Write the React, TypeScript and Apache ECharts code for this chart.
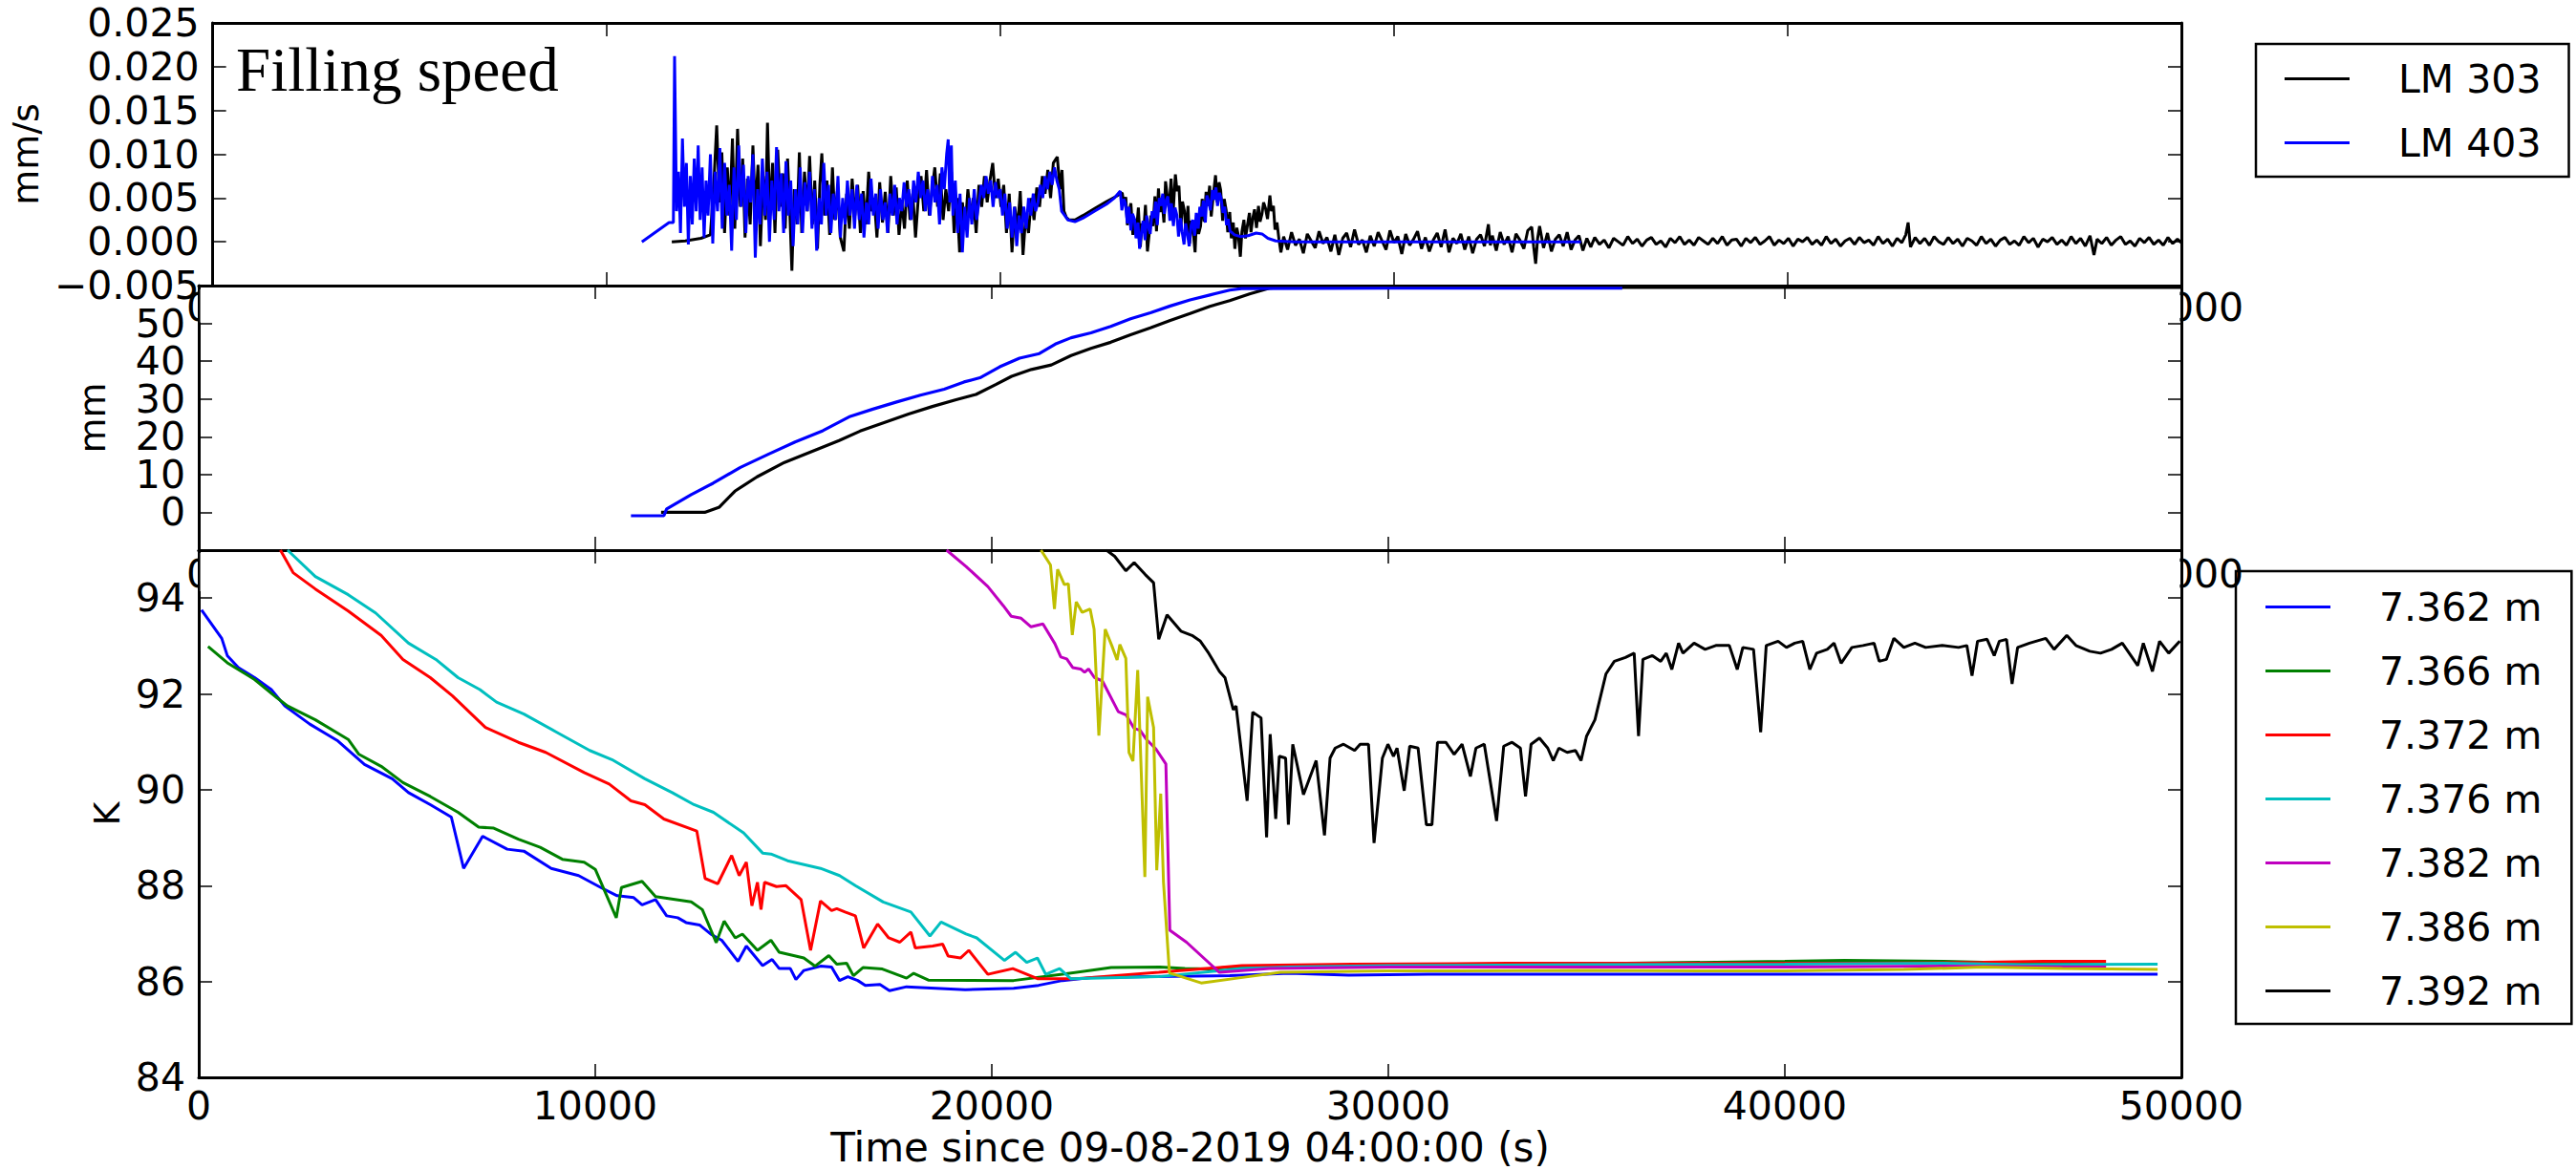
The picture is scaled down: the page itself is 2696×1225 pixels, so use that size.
import React, { useEffect, useRef } from "react";
import * as echarts from "echarts";

type Pt = [number, number];

// ---------------- DATA ----------------
const probeNames = ["LM 303", "LM 403"];
const sensorNames = ["7.362 m", "7.366 m", "7.372 m", "7.376 m", "7.382 m", "7.386 m", "7.392 m"];

// Filling speed (mm/s)
const speedLM303: Pt[] = [
  [11660, 0.0], [12000, 0.0001], [12400, 0.0004], [12640, 0.0008], [12720, 0.006], [12800, 0.0133], [12870, 0.0045], [12930, 0.0102],
  [13000, 0.001], [13070, 0.0085], [13130, 0.003], [13200, 0.0118], [13260, 0.0015], [13330, 0.0129], [13400, 0.004], [13460, 0.0095],
  [13520, 0.0005], [13580, 0.0072], [13650, 0.002], [13720, 0.011], [13780, 0.0035], [13850, 0.0088], [13910, -0.0005], [13980, 0.0075],
  [14040, 0.0025], [14090, 0.0136], [14150, 0.003], [14220, 0.009], [14280, 0.001], [14350, 0.0105], [14420, 0.004], [14480, 0.0078],
  [14540, 0.0015], [14600, 0.0095], [14660, 0.003], [14710, -0.0033], [14770, 0.006], [14840, 0.002], [14900, 0.0102], [14960, 0.001],
  [15030, 0.008], [15100, 0.0035], [15160, 0.0098], [15230, 0.002], [15290, 0.007], [15360, -0.0008], [15420, 0.0065], [15470, 0.0101],
  [15540, 0.003], [15600, 0.007], [15670, 0.0008], [15740, 0.0085], [15800, 0.0025], [15870, 0.006], [15940, 0.0005], [16030, -0.0011],
  [16100, 0.0055], [16170, 0.0015], [16240, 0.0072], [16310, 0.003], [16380, 0.0065], [16450, 0.001], [16520, 0.0058], [16590, 0.002],
  [16660, 0.008], [16730, 0.0035], [16800, 0.005], [16870, 0.0005], [16940, 0.0068], [17010, 0.0022], [17080, 0.0057], [17150, 0.001],
  [17220, 0.0075], [17290, 0.003], [17360, 0.0062], [17430, 0.0008], [17500, 0.0045], [17570, 0.0015], [17640, 0.007], [17710, 0.0025],
  [17780, 0.0055], [17850, 0.0005], [17920, 0.005], [17990, 0.0075], [18060, 0.0035], [18130, 0.0082], [18200, 0.003], [18270, 0.006],
  [18340, 0.0085], [18410, 0.004], [18480, 0.0078], [18550, 0.0025], [18620, 0.006], [18690, 0.0035], [18760, 0.008], [18830, 0.001],
  [18900, 0.005], [18970, -0.0012], [19040, 0.0045], [19110, 0.0015], [19180, 0.006], [19250, 0.003], [19320, 0.005], [19390, 0.001],
  [19460, 0.0065], [19530, 0.004], [19600, 0.0075], [19670, 0.0045], [19740, 0.007], [19810, 0.009], [19880, 0.005], [19950, 0.0072],
  [20020, 0.004], [20090, 0.0065], [20160, 0.001], [20230, 0.0055], [20300, -0.0012], [20370, 0.004], [20440, 0.0015], [20510, 0.0058],
  [20580, -0.0015], [20650, 0.003], [20720, 0.001], [20790, 0.005], [20860, 0.0025], [20930, 0.0062], [21000, 0.004], [21070, 0.0075],
  [21140, 0.0055], [21210, 0.0082], [21280, 0.005], [21350, 0.009], [21450, 0.0097], [21520, 0.006], [21570, 0.0082], [21620, 0.0035],
  [21680, 0.0028], [21750, 0.0025], [21900, 0.0025], [22100, 0.003], [22400, 0.0038], [22700, 0.0046], [22950, 0.0052], [23100, 0.0056],
  [23140, 0.0043], [23190, 0.0051], [23230, 0.0019], [23280, 0.0035], [23320, 0.0044], [23370, 0.0008], [23420, 0.0026], [23460, 0.0012],
  [23510, 0.0039], [23560, -0.0006], [23600, 0.0021], [23650, 0.0015], [23690, 0.0042], [23740, -0.0011], [23780, 0.0007], [23830, 0.003],
  [23880, 0.0018], [23930, 0.0052], [23970, 0.0012], [24020, 0.0061], [24060, 0.0034], [24110, 0.0047], [24160, 0.0022], [24200, 0.0069],
  [24250, 0.005], [24290, 0.0038], [24340, 0.0072], [24390, 0.0031], [24450, 0.0077], [24490, 0.0058], [24540, 0.0064], [24590, 0.0017],
  [24630, 0.0046], [24680, 0.0035], [24720, 0.0009], [24770, 0.0041], [24810, -0.0002], [24860, 0.0024], [24900, 0.0013], [24950, -0.0012],
  [24990, 0.0031], [25040, 0.0009], [25090, 0.0018], [25130, 0.0049], [25180, 0.0023], [25230, 0.0057], [25270, 0.0041], [25320, 0.0064],
  [25360, 0.0029], [25410, 0.0052], [25470, 0.0076], [25510, 0.0045], [25560, 0.0068], [25600, 0.0059], [25650, 0.0024], [25690, 0.0049],
  [25740, 0.0036], [25780, 0.0011], [25830, 0.0034], [25870, 0.0004], [25920, 0.0022], [25960, -0.0008], [26010, 0.0016], [26050, 0.0007],
  [26100, -0.0017], [26140, 0.0012], [26190, 0.0025], [26230, 0.0004], [26280, 0.0019], [26330, 0.0033], [26370, 0.0011], [26420, 0.0028],
  [26460, 0.0037], [26510, 0.0016], [26560, 0.0041], [26600, 0.0023], [26650, 0.0032], [26690, 0.0045], [26740, 0.0038], [26790, 0.0026],
  [26850, 0.0053], [26890, 0.0035], [26940, 0.0041], [26980, 0.0014], [27030, 0.0022], [27080, 0.0003], [27130, -0.0012],
  [27200, 0.0006], [27300, -0.0009], [27400, 0.0011], [27500, -0.0004], [27600, 0.0003], [27700, -0.0013], [27800, 0.0009],
  [27900, 0.0001], [28000, -0.0007], [28100, 0.0012], [28200, -0.0002], [28300, 0.0005], [28400, -0.0011], [28500, 0.0008], [28600, -0.0015],
  [28700, 0.0004], [28800, 0.001], [28900, -0.0006], [29000, 0.0014], [29100, -0.0003], [29200, 0.0002], [29300, -0.0012], [29400, 0.0007],
  [29500, -0.0005], [29600, 0.0011], [29700, 0.0001], [29800, -0.0009], [29900, 0.0013], [30000, -0.0001], [30100, 0.0006], [30200, -0.0014],
  [30300, 0.0009], [30400, -0.0004], [30500, 0.0003], [30600, 0.0012], [30700, -0.0008], [30800, 0.0005], [30900, -0.0011], [31000, 0.0002],
  [31100, 0.001], [31200, -0.0006], [31300, 0.0014], [31400, -0.0012], [31500, 0.0004], [31600, -0.0002], [31700, 0.0009], [31800, -0.0009],
  [31900, 0.0006], [32000, -0.0013], [32100, 0.0003], [32200, 0.0008], [32300, -0.0005], [32400, 0.002], [32450, -0.0004], [32500, 0.0007],
  [32600, -0.001], [32700, 0.0011], [32800, -0.0003], [32900, 0.0006], [33000, -0.0012], [33100, 0.0009], [33200, 0.0002], [33300, -0.0008],
  [33400, 0.0013], [33500, 0.0017], [33550, -0.0006], [33600, -0.0025], [33650, 0.0004], [33700, 0.0018], [33800, -0.0007], [33900, 0.001],
  [34000, -0.0011], [34100, 0.0003], [34200, 0.0008], [34300, -0.0005], [34400, 0.0011], [34500, -0.0009], [34600, 0.0002], [34700, 0.0007],
  [34800, -0.001], [34900, 0.0004], [35000, -0.0006], [35100, 0.0005], [35220, -0.0003], [35340, 0.0002], [35460, -0.0007], [35580, 0.0004],
  [35700, 0.0], [35820, -0.0004], [35940, 0.0006], [36060, -0.0002], [36180, 0.0003], [36300, -0.0005], [36420, 0.0002], [36540, 0.0005],
  [36660, -0.0003], [36780, 0.0001], [36900, -0.0006], [37020, 0.0004], [37140, -0.0001], [37260, 0.0006], [37380, -0.0003], [37500, 0.0002],
  [37620, -0.0004], [37740, 0.0005], [37860, 0.0001], [37980, -0.0003], [38100, 0.0004], [38220, -0.0002], [38340, 0.0006], [38460, -0.0004],
  [38580, 0.0002], [38700, 0.0003], [38820, -0.0005], [38940, 0.0004], [39060, -0.0001], [39180, 0.0005], [39300, -0.0003], [39420, 0.0001],
  [39540, 0.0006], [39660, -0.0004], [39780, 0.0002], [39900, -0.0002], [40020, 0.0004], [40140, -0.0005], [40260, 0.0003], [40380, 0.0],
  [40500, 0.0005], [40620, -0.0003], [40740, 0.0002], [40860, -0.0004], [40980, 0.0006], [41100, -0.0002], [41220, 0.0003], [41340, -0.0005],
  [41460, 0.0001], [41580, 0.0004], [41700, -0.0003], [41820, 0.0005], [41940, -0.0001], [42060, 0.0002], [42180, -0.0004], [42300, 0.0006],
  [42420, -0.0002], [42540, 0.0003], [42660, -0.0005], [42780, 0.0004], [42900, -0.0001], [43000, 0.0008], [43060, 0.0022], [43120, -0.0006],
  [43240, 0.0005], [43360, -0.0002], [43480, 0.0004], [43600, -0.0004], [43720, 0.0006], [43840, 0.0], [43960, -0.0003], [44080, 0.0005],
  [44200, -0.0002], [44320, 0.0003], [44440, -0.0005], [44560, 0.0004], [44680, 0.0001], [44800, -0.0004], [44920, 0.0006], [45040, -0.0002],
  [45160, 0.0003], [45280, -0.0005], [45400, 0.0002], [45520, 0.0005], [45640, -0.0003], [45760, 0.0001], [45880, -0.0004], [46000, 0.0006],
  [46120, -0.0001], [46240, 0.0004], [46360, -0.0006], [46480, 0.0003], [46600, 0.0], [46720, 0.0005], [46840, -0.0003], [46960, 0.0002],
  [47080, -0.0004], [47200, 0.0006], [47320, -0.0002], [47440, 0.0004], [47560, -0.0005], [47680, 0.0007], [47780, -0.0015], [47860, 0.0003],
  [47980, -0.0002], [48100, 0.0005], [48220, -0.0004], [48340, 0.0002], [48460, 0.0006], [48580, -0.0003], [48700, 0.0001], [48820, -0.0005],
  [48940, 0.0004], [49060, -0.0001], [49180, 0.0005], [49300, -0.0003], [49420, 0.0002], [49540, -0.0004], [49660, 0.0005], [49780, -0.0002],
  [49900, 0.0003], [50000, -0.0001]
];

const speedLM403: Pt[] = [
  [10900, 0.0], [11590, 0.0022], [11700, 0.0022], [11730, 0.0212], [11780, 0.0035], [11830, 0.008], [11880, 0.001], [11930, 0.0118],
  [11980, 0.004], [12030, 0.009], [12080, -0.0003], [12130, 0.0075], [12180, 0.002], [12230, 0.0095], [12280, 0.0035], [12330, 0.011],
  [12380, 0.0025], [12430, 0.0085], [12480, 0.0005], [12530, 0.007], [12580, 0.003], [12640, 0.01], [12700, -0.0002], [12760, 0.008],
  [12820, 0.0035], [12880, 0.0107], [12940, 0.0015], [13000, 0.009], [13060, 0.003], [13120, 0.0065], [13180, -0.001], [13240, 0.0085],
  [13300, 0.0025], [13360, 0.011], [13420, 0.004], [13480, 0.0088], [13540, 0.001], [13600, 0.0075], [13660, 0.0045], [13720, 0.01],
  [13780, -0.0018], [13840, 0.006], [13900, 0.002], [13960, 0.0095], [14020, 0.003], [14080, 0.008], [14140, 0.0], [14200, 0.007],
  [14260, 0.0025], [14320, 0.0108], [14380, 0.0035], [14440, 0.0078], [14500, 0.001], [14560, 0.0092], [14620, 0.003], [14680, 0.007],
  [14740, -0.0005], [14800, 0.006], [14860, 0.002], [14920, 0.0085], [14980, 0.001], [15040, 0.0068], [15100, 0.0035], [15160, 0.008],
  [15220, 0.0015], [15280, 0.006], [15340, -0.001], [15400, 0.005], [15460, 0.002], [15520, 0.009], [15580, 0.003], [15640, 0.0065],
  [15700, 0.001], [15760, 0.0055], [15820, 0.0025], [15880, 0.0075], [15940, 0.0005], [16000, 0.005], [16060, 0.002], [16120, 0.007],
  [16180, 0.003], [16240, 0.006], [16300, 0.0015], [16360, 0.0065], [16420, 0.0025], [16480, 0.0055], [16540, 0.0005], [16600, 0.0045],
  [16660, 0.002], [16720, 0.0072], [16780, 0.003], [16840, 0.0055], [16900, 0.0015], [16960, 0.006], [17020, 0.0025], [17080, 0.0045],
  [17140, 0.001], [17200, 0.0055], [17260, 0.003], [17320, 0.0065], [17380, 0.002], [17440, 0.005], [17500, 0.0035], [17560, 0.0068],
  [17620, 0.004], [17680, 0.006], [17740, 0.0025], [17800, 0.007], [17860, 0.0045], [17920, 0.008], [17980, 0.005], [18040, 0.007],
  [18100, 0.0035], [18160, 0.006], [18220, 0.003], [18280, 0.0075], [18340, 0.0045], [18400, 0.0065], [18460, 0.002], [18520, 0.0085],
  [18580, 0.006], [18640, 0.01], [18680, 0.0117], [18720, 0.0045], [18760, 0.011], [18800, 0.003], [18860, 0.007], [18920, 0.001],
  [18980, 0.0055], [19040, -0.0012], [19100, 0.004], [19160, 0.0005], [19220, 0.005], [19280, 0.002], [19340, 0.006], [19400, 0.0025],
  [19460, 0.0045], [19520, 0.0065], [19580, 0.005], [19640, 0.0075], [19700, 0.0055], [19760, 0.007], [19820, 0.004], [19880, 0.0068],
  [19940, 0.005], [20000, 0.006], [20060, 0.003], [20120, 0.0055], [20180, 0.0015], [20240, 0.0045], [20300, 0.0005], [20360, 0.004],
  [20420, -0.0005], [20480, 0.003], [20540, 0.001], [20600, 0.004], [20660, 0.0015], [20720, 0.005], [20780, 0.003], [20840, 0.0055],
  [20900, 0.0035], [20960, 0.0045], [21020, 0.0065], [21080, 0.005], [21140, 0.0075], [21200, 0.006], [21260, 0.008], [21320, 0.0065],
  [21380, 0.0085], [21440, 0.007], [21500, 0.006], [21560, 0.0035], [21640, 0.003], [21720, 0.0025], [21900, 0.0023], [22100, 0.0027],
  [22400, 0.0035], [22700, 0.0043], [22900, 0.005], [23050, 0.0058], [23090, 0.0036], [23140, 0.0049], [23180, 0.0044], [23230, 0.0021],
  [23270, 0.004], [23320, 0.0013], [23360, 0.0032], [23410, 0.0026], [23450, 0.0004], [23500, 0.0022], [23540, -0.0008], [23590, 0.0011],
  [23630, 0.0024], [23680, 0.0002], [23720, 0.003], [23770, 0.0016], [23810, 0.0009], [23860, 0.0035], [23900, 0.0027], [23950, 0.0046],
  [23990, 0.0019], [24040, 0.005], [24080, 0.0041], [24130, 0.0055], [24170, 0.0032], [24220, 0.0048], [24260, 0.0052], [24310, 0.0024],
  [24350, 0.0044], [24400, 0.0018], [24440, 0.0039], [24490, 0.003], [24530, 0.0006], [24580, 0.0027], [24620, 0.0012], [24670, -0.0003],
  [24710, 0.0021], [24760, 0.0008], [24800, -0.0005], [24850, 0.0019], [24890, 0.0025], [24940, 0.0007], [24980, 0.0033], [25030, 0.0015],
  [25070, 0.004], [25120, 0.0029], [25160, 0.0047], [25210, 0.0022], [25250, 0.0053], [25300, 0.0045], [25340, 0.0036], [25390, 0.0059],
  [25430, 0.0048], [25480, 0.0062], [25520, 0.0041], [25570, 0.0056], [25610, 0.005], [25660, 0.0033], [25700, 0.004], [25750, 0.0019],
  [25790, 0.0026], [25840, 0.0012], [25900, 0.001], [25950, 0.0008], [26100, 0.0006], [26300, 0.0007], [26500, 0.001], [26650, 0.0009],
  [26800, 0.0004], [27000, 0.0001], [27500, 0.0], [28500, 0.0], [30000, 0.0], [32000, 0.0], [34750, 0.0]
];

// Level (mm)
const levelLM303: Pt[] = [
  [11660, 0], [12760, 0], [13130, 1.4], [13520, 5.6], [14080, 9.4], [14770, 13.2], [15460, 16.1], [16150, 19.0], [16680, 21.5],
  [17300, 23.8], [17900, 26.0], [18500, 28.0], [19100, 29.8], [19600, 31.2], [20100, 33.8], [20500, 36.0], [21000, 37.8], [21500, 39.0],
  [22000, 41.5], [22500, 43.4], [23000, 45.0], [23500, 47.0], [24000, 48.8], [24500, 50.8], [25000, 52.6], [25500, 54.5], [26000, 56.0],
  [26500, 57.8], [27000, 59.3], [27300, 59.5], [50000, 59.5]
];
const levelLM403: Pt[] = [
  [10900, -0.9], [11730, -0.9], [11800, 0.9], [12420, 4.7], [12970, 7.7], [13660, 11.9], [14350, 15.3], [15040, 18.6], [15740, 21.6],
  [16430, 25.4], [17000, 27.3], [17600, 29.2], [18200, 31.0], [18800, 32.6], [19300, 34.5], [19700, 35.6], [20200, 38.5], [20700, 40.8],
  [21200, 42.0], [21600, 44.5], [22000, 46.2], [22500, 47.5], [23000, 49.2], [23500, 51.2], [24000, 52.8], [24500, 54.6], [25000, 56.2],
  [25500, 57.5], [26000, 58.8], [26300, 59.2], [30000, 59.3], [35900, 59.3]
];

// Temperatures (K)
const temp7362: Pt[] = [
  [70, 93.75], [580, 93.16], [720, 92.8], [1000, 92.55], [1410, 92.34], [1830, 92.09], [2170, 91.75], [2800, 91.37], [3490, 91.03],
  [4180, 90.53], [4880, 90.23], [5290, 89.94], [5840, 89.69], [6370, 89.43], [6680, 88.36], [7160, 89.03], [7780, 88.76], [8200, 88.72],
  [8890, 88.36], [9580, 88.21], [10140, 87.96], [10550, 87.79], [10970, 87.75], [11180, 87.6], [11520, 87.71], [11800, 87.37],
  [12080, 87.33], [12290, 87.23], [12630, 87.18], [12910, 86.99], [13190, 86.86], [13600, 86.42], [13810, 86.74], [14220, 86.33],
  [14460, 86.46], [14640, 86.27], [14920, 86.27], [15060, 86.04], [15260, 86.23], [15680, 86.32], [15960, 86.3], [16160, 86.02],
  [16370, 86.1], [16620, 86.02], [16810, 85.92], [17180, 85.94], [17420, 85.81], [17850, 85.89], [19330, 85.83], [20550, 85.86],
  [21180, 85.92], [21780, 86.02], [22500, 86.08], [24000, 86.1], [26000, 86.12], [27500, 86.17], [29000, 86.13], [31000, 86.15],
  [35000, 86.15], [40000, 86.15], [45000, 86.15], [49400, 86.15]
];
const temp7366: Pt[] = [
  [235, 92.99], [720, 92.65], [1410, 92.3], [1970, 91.92], [2240, 91.75], [2940, 91.46], [3770, 91.05], [4040, 90.74], [4600, 90.49],
  [5150, 90.15], [5840, 89.86], [6540, 89.53], [7060, 89.22], [7440, 89.2], [8060, 88.97], [8610, 88.8], [9170, 88.55], [9720, 88.49],
  [10000, 88.34], [10530, 87.33], [10660, 87.96], [11180, 88.09], [11520, 87.77], [12010, 87.71], [12420, 87.66], [12700, 87.5],
  [13050, 86.81], [13250, 87.26], [13530, 86.91], [13710, 86.99], [14090, 86.65], [14430, 86.86], [14640, 86.61], [15260, 86.49],
  [15540, 86.32], [15890, 86.54], [16090, 86.36], [16340, 86.38], [16510, 86.12], [16750, 86.29], [17240, 86.26], [17850, 86.07],
  [18030, 86.17], [18400, 86.03], [20550, 86.02], [21780, 86.15], [23010, 86.29], [24240, 86.3], [24870, 86.27], [25490, 86.26],
  [26000, 86.3], [28000, 86.32], [32000, 86.35], [36000, 86.38], [40000, 86.42], [41500, 86.44], [44000, 86.42], [46000, 86.38],
  [48100, 86.35]
];
const temp7372: Pt[] = [
  [2060, 95], [2380, 94.53], [2940, 94.19], [3770, 93.73], [4600, 93.22], [5150, 92.72], [5840, 92.34], [6400, 91.96], [7230, 91.3],
  [8060, 90.99], [8750, 90.78], [9720, 90.36], [10350, 90.12], [10900, 89.77], [11250, 89.69], [11730, 89.39], [12560, 89.14],
  [12770, 88.15], [13090, 88.04], [13440, 88.63], [13630, 88.21], [13810, 88.49], [13950, 87.58], [14090, 88.07], [14180, 87.5],
  [14270, 88.07], [14570, 87.98], [14810, 88.0], [15190, 87.71], [15430, 86.65], [15680, 87.68], [15960, 87.48], [16090, 87.52],
  [16300, 87.45], [16560, 87.37], [16770, 86.7], [17120, 87.2], [17400, 86.91], [17680, 86.82], [17960, 87.03], [18070, 86.7],
  [18510, 86.74], [18760, 86.78], [18900, 86.53], [19210, 86.49], [19420, 86.65], [19900, 86.15], [20530, 86.27], [21150, 86.06],
  [22130, 86.06], [24210, 86.19], [26300, 86.33], [29080, 86.36], [33000, 86.38], [38000, 86.38], [42000, 86.38], [45000, 86.4],
  [46500, 86.42], [48100, 86.42]
];
const temp7376: Pt[] = [
  [2240, 95], [2940, 94.45], [3770, 94.07], [4460, 93.69], [5290, 93.06], [5980, 92.72], [6540, 92.34], [7090, 92.09], [7510, 91.83],
  [8200, 91.58], [9030, 91.2], [9860, 90.82], [10420, 90.63], [11250, 90.23], [11940, 89.94], [12490, 89.69], [12980, 89.53],
  [13740, 89.1], [14220, 88.68], [14430, 88.66], [14850, 88.52], [15680, 88.36], [16160, 88.21], [16560, 88.0], [17260, 87.66],
  [17960, 87.45], [18440, 86.95], [18720, 87.24], [19350, 86.99], [19620, 86.91], [20320, 86.44], [20600, 86.61], [20880, 86.4],
  [21150, 86.49], [21360, 86.15], [21710, 86.27], [21990, 86.06], [24210, 86.1], [26300, 86.27], [27500, 86.3], [30000, 86.33],
  [35000, 86.35], [40000, 86.36], [44000, 86.38], [46000, 86.35], [49400, 86.36]
];
const temp7382: Pt[] = [
  [18860, 95], [19350, 94.66], [19900, 94.24], [20290, 93.84], [20490, 93.62], [20740, 93.58], [20990, 93.4], [21290, 93.46],
  [21590, 93.05], [21740, 92.77], [21890, 92.73], [22040, 92.55], [22240, 92.52], [22340, 92.45], [22440, 92.52], [22590, 92.34],
  [22790, 92.27], [23190, 91.63], [23390, 91.56], [23590, 91.28], [23740, 91.24], [23890, 91.06], [24140, 90.85], [24390, 90.54],
  [24490, 87.07], [24910, 86.82], [25740, 86.19], [27000, 86.27], [30000, 86.3], [35000, 86.3], [40000, 86.3], [44000, 86.32],
  [48100, 86.3]
];
const temp7386: Pt[] = [
  [21240, 95], [21480, 94.69], [21580, 93.77], [21660, 94.6], [21830, 94.28], [21930, 94.3], [22030, 93.23], [22130, 93.92],
  [22280, 93.7], [22480, 93.77], [22580, 93.35], [22700, 91.13], [22860, 93.35], [23030, 93.0], [23160, 92.71], [23230, 93.03],
  [23380, 92.74], [23460, 90.78], [23560, 90.6], [23680, 92.5], [23860, 88.18], [23930, 91.94], [24080, 91.3], [24160, 88.32],
  [24260, 89.92], [24330, 88.07], [24480, 86.18], [25280, 85.97], [26280, 86.08], [27280, 86.19], [30000, 86.22], [35000, 86.23],
  [40000, 86.22], [43000, 86.25], [45000, 86.3], [47000, 86.27], [49400, 86.25]
];
const temp7392: Pt[] = [
  [22890, 95], [23100, 94.87], [23380, 94.57], [23590, 94.74], [23870, 94.49], [24080, 94.32], [24210, 93.14], [24420, 93.65],
  [24770, 93.31], [25050, 93.22], [25260, 93.1], [25470, 92.85], [25740, 92.47], [25880, 92.34], [26090, 91.67], [26160, 91.75],
  [26440, 89.77], [26580, 91.62], [26790, 91.5], [26930, 89.01], [27020, 91.16], [27160, 89.39], [27250, 90.7], [27410, 90.66],
  [27480, 89.27], [27590, 90.95], [27860, 89.9], [28180, 90.61], [28390, 89.05], [28530, 90.66], [28660, 90.87], [28870, 90.95],
  [29150, 90.82], [29290, 90.95], [29500, 90.95], [29640, 88.89], [29850, 90.66], [29990, 90.95], [30130, 90.7], [30220, 90.87],
  [30400, 89.98], [30540, 90.91], [30750, 90.87], [30960, 89.27], [31100, 89.27], [31240, 90.99], [31450, 90.99], [31660, 90.74],
  [31860, 90.95], [32070, 90.28], [32210, 90.87], [32420, 90.95], [32730, 89.35], [32910, 90.91], [33120, 90.99], [33330, 90.87],
  [33460, 89.86], [33600, 90.95], [33810, 91.08], [34020, 90.87], [34160, 90.61], [34300, 90.87], [34510, 90.78], [34720, 90.82],
  [34860, 90.61], [35000, 91.12], [35210, 91.46], [35490, 92.42], [35700, 92.68], [35980, 92.76], [36200, 92.85], [36310, 91.12],
  [36420, 92.72], [36660, 92.8], [36870, 92.68], [37010, 92.85], [37150, 92.51], [37320, 93.06], [37430, 92.85], [37710, 93.06],
  [37990, 92.93], [38260, 93.01], [38600, 93.01], [38800, 92.51], [38940, 92.97], [39210, 92.93], [39390, 91.2], [39530, 93.01],
  [39830, 93.1], [40040, 92.97], [40250, 93.06], [40450, 93.1], [40630, 92.51], [40800, 92.85], [41070, 92.93], [41240, 93.06],
  [41420, 92.64], [41690, 92.97], [41970, 93.01], [42250, 93.06], [42380, 92.68], [42560, 92.72], [42750, 93.16], [43000, 92.97],
  [43280, 93.06], [43550, 92.97], [43970, 93.01], [44380, 92.97], [44590, 93.01], [44720, 92.38], [44860, 93.1], [45100, 93.14],
  [45280, 92.8], [45410, 93.1], [45590, 93.14], [45730, 92.21], [45870, 92.97], [46170, 93.06], [46580, 93.16], [46790, 92.93],
  [47110, 93.22], [47340, 93.01], [47690, 92.89], [47960, 92.85], [48240, 92.93], [48510, 93.06], [48900, 92.59], [49040, 93.06],
  [49270, 92.47], [49450, 93.1], [49680, 92.85], [49960, 93.1]
];
const sensorSeries: Pt[][] = [temp7362, temp7366, temp7372, temp7376, temp7382, temp7386, temp7392];

// ---------------- STYLE ----------------
const probeColors = ["#000000", "#0000ff"];
const sensorColors = ["#0000ff", "#008000", "#ff0000", "#00bfbf", "#bf00bf", "#bfbf00", "#000000"];
const FONT = '"DejaVu Sans", sans-serif';
const LABEL_SIZE = 41;

const axisLine = { show: true, onZero: false, lineStyle: { color: "#000", width: 3 } };
const axisTick = { show: true, inside: true, length: 14, lineStyle: { color: "#000", width: 1.5 } };
const labelStyle = { color: "#000", fontSize: LABEL_SIZE, fontFamily: FONT, lineHeight: 36 };

function xAxisPair(gridIndex: number, showLabels: boolean, extra: any = {}) {
  const base = {
    type: "value", gridIndex, min: 0, max: 50000, interval: 10000,
    axisLine, axisTick, splitLine: { show: false },
  };
  return [
    {
      ...base, position: "bottom",
      axisLabel: showLabels ? { ...labelStyle, margin: 12, formatter: (v: number) => String(v) } : { show: false },
      ...extra,
    },
    { ...base, position: "top", axisLabel: { show: false } },
  ];
}

function yAxisPair(gridIndex: number, min: number, max: number, interval: number, fmt: (v: number) => string, name: string, nameGap: number) {
  const base = {
    type: "value", gridIndex, min, max, interval,
    axisLine, axisTick, splitLine: { show: false },
  };
  return [
    {
      ...base, position: "left",
      axisLabel: { ...labelStyle, margin: 14, formatter: fmt },
      name, nameLocation: "middle", nameGap, nameRotate: 90,
      nameTextStyle: { color: "#000", fontSize: 38, fontFamily: FONT },
    },
    { ...base, position: "right", axisLabel: { show: false } },
  ];
}

const MINUS = "\u2212";

function buildOption() {
  const grids = [
    { left: 208, top: 24, width: 2075, height: 275 },
    { left: 208, top: 299, width: 2075, height: 277 },
    { left: 208, top: 576, width: 2075, height: 552 },
  ];
  const xAxis = [
    ...xAxisPair(0, false),
    ...xAxisPair(1, false),
    ...xAxisPair(2, true, {
      name: "Time since 09-08-2019 04:00:00 (s)", nameLocation: "middle", nameGap: 47,
      nameTextStyle: { color: "#000", fontSize: 42, fontFamily: FONT, lineHeight: 44 },
    }),
  ];
  const yAxis = [
    ...yAxisPair(0, -0.005, 0.025, 0.005, (v) => (v < -1e-9 ? MINUS : "") + Math.abs(v).toFixed(3), "mm/s", 154),
    ...yAxisPair(1, -10, 60, 10, (v) => (v < 0 ? MINUS : "") + Math.abs(Math.round(v)), "mm", 92),
    ...yAxisPair(2, 84, 95, 2, (v) => (v > 94.5 ? "" : String(Math.round(v))), "K", 67),
  ];

  const line = (name: string, data: Pt[], color: string, xi: number, yi: number, width: number) => ({
    type: "line", name, data, xAxisIndex: xi, yAxisIndex: yi,
    showSymbol: false, symbol: "none", color,
    lineStyle: { color, width }, itemStyle: { color },
    z: 3,
  });

  const series: any[] = [
    line(probeNames[0], speedLM303, probeColors[0], 0, 0, 3),
    line(probeNames[1], speedLM403, probeColors[1], 0, 0, 3),
    line(probeNames[0], levelLM303, probeColors[0], 2, 2, 3.2),
    line(probeNames[1], levelLM403, probeColors[1], 2, 2, 3.2),
    ...sensorSeries.map((d, i) => line(sensorNames[i], d, sensorColors[i], 4, 4, 3)),
  ];

  const legendBase = {
    orient: "vertical", icon: "rect", itemWidth: 68, itemHeight: 3, itemGap: 20,
    borderColor: "#000", borderWidth: 2.5, borderRadius: 0, backgroundColor: "#fff",
    selectedMode: false,
    itemStyle: { borderWidth: 0 },
    textStyle: { color: "#000", fontSize: LABEL_SIZE, fontFamily: FONT, lineHeight: 47, padding: [0, 0, 0, 46] },
  };
  const legend = [
    { ...legendBase, data: probeNames, left: 2361, top: 46, padding: [13, 29, 12, 30] },
    { ...legendBase, data: sensorNames, left: 2340, top: 598, padding: [14, 31, 11, 31] },
  ];

  const tickFont = `${LABEL_SIZE}px ${FONT}`;
  const graphic = [
    { type: "text", x: 247, y: 73, z: 20, style: { text: "Filling speed", font: '65px "Liberation Serif", serif', fill: "#000", align: "left", verticalAlign: "middle" } },
    // x tick labels of the upper panels, hidden behind the panel below (as in the original)
    { type: "text", x: 208, y: 322, z: 20, style: { text: "0", font: tickFont, fill: "#000", align: "center", verticalAlign: "middle" } },
    { type: "text", x: 2283, y: 322, z: 20, style: { text: "50000", font: tickFont, fill: "#000", align: "center", verticalAlign: "middle" } },
    { type: "text", x: 208, y: 601, z: 20, style: { text: "0", font: tickFont, fill: "#000", align: "center", verticalAlign: "middle" } },
    { type: "text", x: 2283, y: 601, z: 20, style: { text: "50000", font: tickFont, fill: "#000", align: "center", verticalAlign: "middle" } },
    { type: "rect", z: 21, shape: { x: 209.6, y: 303, width: 40, height: 34.5 }, style: { fill: "#fff" } },
    { type: "rect", z: 21, shape: { x: 2200, y: 303, width: 81.4, height: 34.5 }, style: { fill: "#fff" } },
    { type: "rect", z: 21, shape: { x: 209.6, y: 579, width: 40, height: 40 }, style: { fill: "#fff" } },
    { type: "rect", z: 21, shape: { x: 2200, y: 579, width: 81.4, height: 40 }, style: { fill: "#fff" } },
  ];

  return {
    animation: false,
    backgroundColor: "#fff",
    grid: grids,
    xAxis, yAxis, series, legend, graphic,
  };
}

export default function App() {
  const ref = useRef<HTMLDivElement>(null);
  useEffect(() => {
    if (!ref.current) return;
    const chart = echarts.init(ref.current, undefined, { renderer: "svg" });
    chart.setOption(buildOption() as any);
    return () => chart.dispose();
  }, []);
  return (
    <div
      ref={ref}
      style={{ position: "fixed", left: 0, top: 0, width: 2696, height: 1225, background: "#fff" }}
    />
  );
}
